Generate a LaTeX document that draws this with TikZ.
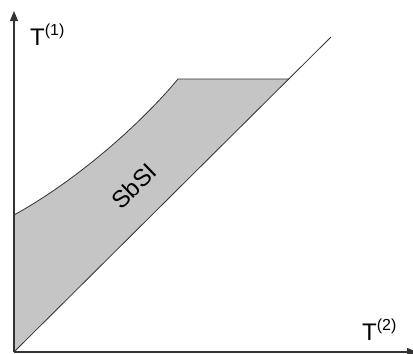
\documentclass[tikz,border=0pt]{standalone}
\usepackage{fontspec}
\setmainfont{Liberation Sans}
\usetikzlibrary{arrows.meta}
\definecolor{regfill}{HTML}{C5C5C5}
\definecolor{linec}{HTML}{333333}
\newcommand{\supr}[1]{\raisebox{10pt}{\fontsize{16}{16}\selectfont #1}}
\tikzset{
  axis/.style={draw=linec, line width=1.2pt, -{Triangle[length=10pt,width=8pt]}},
  thinline/.style={draw=linec, line width=0.8pt},
  lbl/.style={font=\fontsize{24}{26}\selectfont, inner sep=0pt}
}
\begin{document}
\begin{tikzpicture}[x=1pt,y=-1pt]
\useasboundingbox (0,0) rectangle (413,354);
\coordinate (O) at (14,352);
\coordinate (Ytop) at (14,11);
\coordinate (Xend) at (417,352);
\coordinate (A) at (14,215);
\coordinate (B) at (178,79);
\coordinate (C) at (289,79);
\coordinate (D) at (331,37);
% region
\fill[regfill] (O) -- (A) .. controls (74,182) and (138,127) .. (B) -- (C) -- cycle;
\draw[thinline] (A) .. controls (74,182) and (138,127) .. (B) -- (C);
\draw[thinline] (O) -- (D);
% axes
\draw[axis] (O) -- (Ytop);
\draw[axis] (O) -- (Xend);
\node[lbl, anchor=base west] (t1) at (30,45) {T\supr{(1)}};
\node[lbl, anchor=base west] (t2) at (362,340) {T\supr{(2)}};
\node[lbl, rotate=44] (s) at (134,186) {SbSI};
\end{tikzpicture}
\end{document}
